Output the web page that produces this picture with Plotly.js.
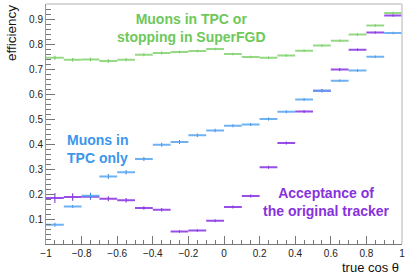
<!DOCTYPE html>
<html>
<head>
<meta charset="utf-8">
<script src="https://cdn.plot.ly/plotly-3.0.1.min.js"></script>
<style>html,body{margin:0;padding:0;background:#fff;}#chart{width:407px;height:274px;}</style>
</head>
<body>
<div id="chart"></div>
<script>
// bin centers of true cos theta (bin width 0.1)
const binCenters = [-0.95,-0.85,-0.75,-0.65,-0.55,-0.45,-0.35,-0.25,-0.15,-0.05,0.05,0.15,0.25,0.35,0.45,0.55,0.65,0.75,0.85,0.95];
const binHalfWidth = [0.05,0.05,0.05,0.05,0.05,0.05,0.05,0.05,0.05,0.05,0.05,0.05,0.05,0.05,0.05,0.05,0.05,0.05,0.05,0.05];

// Muons in TPC or stopping in SuperFGD
const effTpcOrFgd = [0.745,0.737,0.738,0.732,0.737,0.757,0.764,0.768,0.772,0.780,0.760,0.748,0.745,0.754,0.773,0.794,0.813,0.838,0.874,0.924];
const errTpcOrFgd = [0.008,0.007,0.007,0.007,0.006,0.006,0.006,0.005,0.005,0.005,0.005,0.005,0.005,0.005,0.005,0.005,0.005,0.005,0.005,0.005];

// Muons in TPC only
const effTpcOnly = [0.077,0.150,0.193,0.270,0.287,0.340,0.397,0.408,0.435,0.454,0.473,0.478,0.500,0.529,0.578,0.613,0.653,0.694,0.749,0.844];
const errTpcOnly = [0.008,0.006,0.012,0.010,0.009,0.008,0.008,0.008,0.007,0.007,0.006,0.006,0.006,0.006,0.006,0.006,0.005,0.005,0.005,0.005];

// Acceptance of the original tracker
const effOriginal = [0.184,0.188,0.189,0.181,0.175,0.144,0.137,0.050,0.054,0.093,0.148,0.192,0.307,0.404,0.530,0.613,0.698,0.777,0.846,0.914];
const errOriginal = [0.020,0.015,0.012,0.010,0.009,0.007,0.007,0.005,0.005,0.006,0.006,0.006,0.006,0.006,0.006,0.006,0.006,0.005,0.005,0.005];

const yTickVals = [0,0.1,0.2,0.3,0.4,0.5,0.6,0.7,0.8,0.9];
const yTickText = ['','0.1','0.2','0.3','0.4','0.5','0.6','0.7','0.8','0.9'];

const labelTpcOrFgd = 'Muons in TPC or<br>stopping in SuperFGD';
const labelTpcOnly = 'Muons in<br>TPC only';
const labelOriginal = 'Acceptance of<br>the original tracker';

function series(name, y, err, lineColor, tickColor) {
  return {
    type: 'scatter', mode: 'markers', name: name,
    x: binCenters, y: y,
    marker: {size: 0.1, color: tickColor},
    error_x: {type: 'data', array: binHalfWidth, symmetric: true, width: 0, thickness: 2, color: lineColor},
    error_y: {type: 'data', array: err, symmetric: true, width: 0, thickness: 1, color: tickColor},
    hoverinfo: 'x+y'
  };
}

const data = [
  series('Acceptance of the original tracker', effOriginal, errOriginal, 'rgba(140,60,230,0.9)', 'rgb(120,40,210)'),
  series('Muons in TPC only', effTpcOnly, errTpcOnly, 'rgba(85,165,240,0.85)', 'rgb(50,130,220)'),
  series('Muons in TPC or stopping in SuperFGD', effTpcOrFgd, errTpcOrFgd, 'rgba(130,210,110,0.85)', 'rgb(95,180,80)')
];

const font = 'Liberation Sans, Arial, Helvetica, sans-serif';

const layout = {
  width: 407, height: 274,
  margin: {l: 46, r: 5, t: 4, b: 30, pad: 0},
  paper_bgcolor: '#fff', plot_bgcolor: '#fff',
  showlegend: false,
  font: {family: font, size: 10, color: '#222'},
  xaxis: {
    range: [-1, 1], tickmode: 'linear', tick0: -1, dtick: 0.2,
    ticks: 'inside', ticklen: 8, tickwidth: 1, tickcolor: '#777',
    minor: {dtick: 0.05, tick0: -1, ticks: 'inside', ticklen: 4, tickcolor: '#777', showgrid: false},
    showgrid: false, zeroline: false, showline: true, linecolor: '#777', linewidth: 1,
    tickfont: {family: font, size: 10, color: '#222'}
  },
  yaxis: {
    range: [0, 0.96], tickmode: 'array', tickvals: yTickVals, ticktext: yTickText,
    ticks: 'inside', ticklen: 9, tickwidth: 1, tickcolor: '#777',
    minor: {dtick: 0.02, tick0: 0, ticks: 'inside', ticklen: 4.5, tickcolor: '#777', showgrid: false},
    showgrid: false, zeroline: false, showline: true, linecolor: '#999', linewidth: 1,
    tickfont: {family: font, size: 10, color: '#222'}
  },
  shapes: [
    {type: 'line', xref: 'paper', yref: 'paper', x0: 0, x1: 1, y0: 1, y1: 1, line: {color: '#ccc', width: 1.5}},
    {type: 'line', xref: 'paper', yref: 'paper', x0: 1, x1: 1, y0: 0, y1: 1, line: {color: '#ccc', width: 1.5}}
  ],
  annotations: [
    {text: labelTpcOrFgd, x: -0.185, y: 0.864, xref: 'x', yref: 'y', showarrow: false,
     xanchor: 'center', yanchor: 'middle', align: 'center',
     font: {family: font, size: 14, color: 'rgb(110,200,90)', weight: 'bold'}},
    {text: labelTpcOnly, x: -0.712, y: 0.379, xref: 'x', yref: 'y', showarrow: false,
     xanchor: 'center', yanchor: 'middle', align: 'left',
     font: {family: font, size: 14, color: 'rgb(60,150,235)', weight: 'bold'}},
    {text: labelOriginal, x: 0.578, y: 0.170, xref: 'x', yref: 'y', showarrow: false,
     xanchor: 'center', yanchor: 'middle', align: 'center',
     font: {family: font, size: 14, color: 'rgb(135,50,220)', weight: 'bold'}},
    {text: 'true cos θ', x: 1, y: -0.096, xref: 'paper', yref: 'paper', showarrow: false,
     xanchor: 'right', yanchor: 'middle', xshift: -1,
     font: {family: font, size: 13, color: '#111'}},
    {text: 'efficiency', x: -0.098, y: 1.0, xref: 'paper', yref: 'paper', showarrow: false,
     xanchor: 'center', yanchor: 'top', textangle: -90, yshift: 1,
     font: {family: font, size: 13.5, color: '#111'}}
  ]
};

Plotly.newPlot('chart', data, layout, {staticPlot: true, displayModeBar: false});
</script>
</body>
</html>
